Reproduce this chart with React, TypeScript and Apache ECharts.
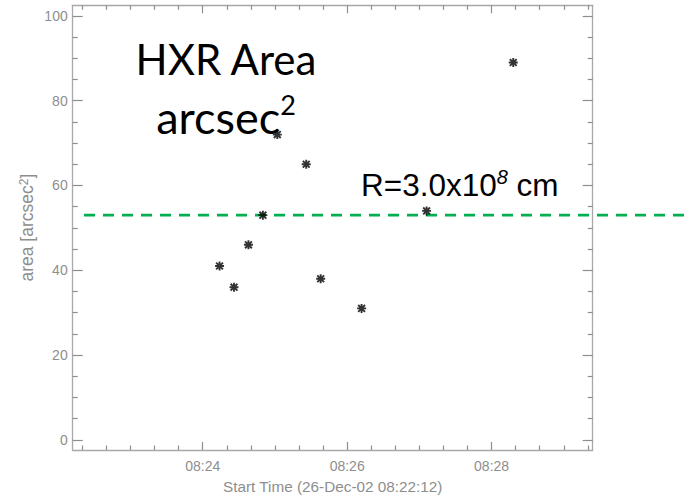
import React, { useEffect, useRef } from "react";
import * as echarts from "echarts";

// ---- data ----
const startTime = "08:22:12";
const endTime = "08:29:24";
const xAxisTitle = "Start Time (26-Dec-02 08:22:12)";
const yAxisTitle = "area [arcsec{sup|2}]";
const times = [
  "08:24:14", "08:24:26", "08:24:38", "08:24:50", "08:25:02",
  "08:25:26", "08:25:38", "08:26:12", "08:27:06", "08:28:18",
];
const areas = [41, 36, 46, 53, 72, 65, 38, 31, 54, 89];
const xMajorLabels = ["08:24", "08:26", "08:28"];
const xMinorStepSec = 20;
const yMajorTicks = [0, 20, 40, 60, 80, 100];
const yMinorStep = 5;
const yRange = [-2.4, 102.5];
const thresholdArea = 53;

// ---- helpers ----
const toSec = (t: string) => {
  const p = t.split(":").map(Number);
  return p[0] * 3600 + p[1] * 60 + (p[2] || 0);
};
const t0 = toSec(startTime);
const rel = (t: string) => toSec(t) - t0;
const xSpan = rel(endTime);
const xMajor = xMajorLabels.map(rel);
const xMinor: number[] = [];
for (let s = Math.ceil(t0 / xMinorStepSec) * xMinorStepSec; s - t0 <= xSpan; s += xMinorStepSec) {
  const v = s - t0;
  if (v > 0 && v < xSpan && !xMajor.includes(v)) xMinor.push(v);
}
const yMinor: number[] = [];
for (let v = yMajorTicks[0]; v <= yMajorTicks[yMajorTicks.length - 1]; v += yMinorStep) {
  if (!yMajorTicks.includes(v)) yMinor.push(v);
}
const fmtX = (v: number) => {
  const s = v + t0;
  const h = Math.floor(s / 3600);
  const m = Math.floor((s % 3600) / 60);
  return `${String(h).padStart(2, "0")}:${String(m).padStart(2, "0")}`;
};

const LINE = "#a8a8a8";
const TICK = "#8e8e8e";
const LABEL = "#8e8e8e";
const AXFONT = "Liberation Sans";

const GRID = { left: 72.7, top: 5.3, width: 520, height: 444.7 };

export default function App() {
  const ref = useRef<HTMLDivElement>(null);
  useEffect(() => {
    document.body.style.margin = "0";
    const chart = echarts.init(ref.current!, null, { renderer: "svg" });
    const axLine = { show: true, onZero: false, lineStyle: { color: LINE, width: 1.3 } };
    const noLine = { show: false, onZero: false };
    const majX = { show: true, inside: true, length: 8, customValues: xMajor, lineStyle: { color: TICK, width: 1.2 } };
    const minX = { show: true, inside: true, length: 4.5, customValues: xMinor, lineStyle: { color: TICK, width: 1.2 } };
    const majY = { show: true, inside: true, length: 10, customValues: yMajorTicks, lineStyle: { color: TICK, width: 1.2 } };
    const minY = { show: true, inside: true, length: 5, customValues: yMinor, lineStyle: { color: TICK, width: 1.2 } };
    const base = { type: "value", splitLine: { show: false }, nameMoveOverlap: false };
    const xb = { ...base, min: 0, max: xSpan };
    const yb = { ...base, min: yRange[0], max: yRange[1] };
    const option: any = {
      animation: false,
      grid: [
        { ...GRID, outerBoundsMode: "none" },
        { ...GRID, outerBoundsMode: "none" },
        { left: 84, right: 4, top: GRID.top, height: GRID.height, outerBoundsMode: "none" },
      ],
      xAxis: [
        {
          ...xb, gridIndex: 0, position: "bottom", axisLine: axLine, axisTick: majX,
          axisLabel: { show: true, customValues: xMajor, formatter: fmtX, color: LABEL, fontFamily: AXFONT, fontSize: 14, margin: 9 },
          name: xAxisTitle, nameLocation: "middle", nameGap: 29,
          nameTextStyle: { color: LABEL, fontFamily: AXFONT, fontSize: 15.3 },
        },
        { ...xb, gridIndex: 0, position: "top", axisLine: axLine, axisTick: majX, axisLabel: { show: false } },
        { ...xb, gridIndex: 1, position: "bottom", axisLine: noLine, axisTick: minX, axisLabel: { show: false } },
        { ...xb, gridIndex: 1, position: "top", axisLine: noLine, axisTick: minX, axisLabel: { show: false } },
        { type: "value", gridIndex: 2, min: 0, max: 1, show: false },
      ],
      yAxis: [
        {
          ...yb, gridIndex: 0, position: "left", axisLine: axLine, axisTick: majY,
          axisLabel: { show: true, customValues: yMajorTicks, color: LABEL, fontFamily: AXFONT, fontSize: 14, margin: 5 },
          name: yAxisTitle, nameLocation: "middle", nameGap: 37, nameRotate: 90,
          nameTextStyle: {
            color: LABEL, fontFamily: AXFONT, fontSize: 17.5,
            rich: { sup: { color: LABEL, fontFamily: AXFONT, fontSize: 12, verticalAlign: "top", lineHeight: 12 } },
          },
        },
        { ...yb, gridIndex: 0, position: "right", axisLine: axLine, axisTick: majY, axisLabel: { show: false } },
        { ...yb, gridIndex: 1, position: "left", axisLine: noLine, axisTick: minY, axisLabel: { show: false } },
        { ...yb, gridIndex: 1, position: "right", axisLine: noLine, axisTick: minY, axisLabel: { show: false } },
        { type: "value", gridIndex: 2, min: yRange[0], max: yRange[1], show: false },
      ],
      series: [
        {
          type: "line", xAxisIndex: 4, yAxisIndex: 4, z: 1, silent: true,
          symbol: "none", data: [[0, thresholdArea], [1, thresholdArea]],
          lineStyle: { color: "#00b050", width: 2.6, type: [11, 8] },
        },
        { type: "scatter", xAxisIndex: 2, yAxisIndex: 2, data: [], silent: true },
        {
          type: "scatter", xAxisIndex: 0, yAxisIndex: 0, z: 5, silent: true,
          data: times.map((t, i) => [rel(t), areas[i]]),
          symbol: "path://M5,0L5,10M0,5L10,5M1.2,1.2L8.8,8.8M1.2,8.8L8.8,1.2",
          symbolSize: 9,
          itemStyle: { color: "#000", borderColor: "#000", borderWidth: 1.9 },
        },
      ],
      graphic: [
        {
          type: "text", x: 226, y: 59, z: 10,
          style: { text: "HXR Area", fontFamily: "Lato", fontSize: 42, fill: "#000", align: "center", verticalAlign: "middle" },
        },
        {
          type: "text", x: 226, y: 115, z: 10,
          style: {
            text: "{a|arcsec}{s|2}", align: "center", verticalAlign: "middle",
            rich: {
              a: { fontFamily: "Lato", fontSize: 45, lineHeight: 48, verticalAlign: "bottom", fill: "#000" },
              s: { fontFamily: "Lato", fontSize: 27, lineHeight: 40, verticalAlign: "top", fill: "#000" },
            },
          },
        },
        {
          type: "text", x: 361, y: 184, z: 10,
          style: {
            text: "{r|R=3.0x10}{e|8}{r| cm}", align: "left", verticalAlign: "middle",
            rich: {
              r: { fontFamily: "Liberation Sans", fontSize: 31.5, lineHeight: 34, verticalAlign: "bottom", fill: "#000" },
              e: { fontFamily: "Liberation Sans", fontSize: 20, fontStyle: "italic", lineHeight: 26, verticalAlign: "top", fill: "#000" },
            },
          },
        },
      ],
    };
    chart.setOption(option);
    return () => chart.dispose();
  }, []);
  return <div ref={ref} style={{ width: 694, height: 498 }} />;
}
